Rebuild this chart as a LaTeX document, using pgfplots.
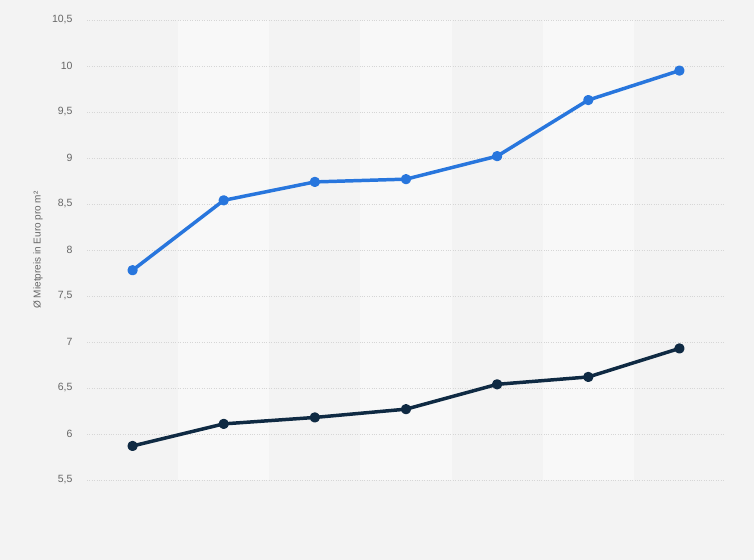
\documentclass[border=0pt]{standalone}
\usepackage{pgfplots}
\pgfplotsset{compat=1.18}
\usepackage{fontspec}
\setmainfont{Liberation Sans}
\definecolor{bgc}{HTML}{F3F3F3}
\definecolor{bandc}{HTML}{F8F8F8}
\definecolor{gridc}{HTML}{D6D6D6}
\definecolor{txtc}{HTML}{666666}
\definecolor{blue1}{HTML}{2876DD}
\definecolor{navy1}{HTML}{0F2A43}
\begin{document}
\begin{tikzpicture}
\begin{axis}[
  set layers,
  at={(0,0)}, anchor=south west,
  scale only axis, width=638bp, height=460bp,
  xmin=-0.5, xmax=6.5, ymin=5.5, ymax=10.5,
  axis line style={draw=none},
  xtick=\empty,
  ytick={5.5,6,...,10.5},
  ymajorgrids,
  grid style={gridc, dotted, line width=0.8pt},
  major tick length=0pt,
  yticklabel style={font=\fontsize{10.5bp}{12bp}\selectfont, text=txtc, xshift=-11bp},
  /pgf/number format/.cd, use comma, fixed, precision=1, assume math mode=true,
  /pgfplots/.cd,
  ylabel={Ø Mietpreis in Euro pro m²},
  every axis y label/.style={at={([xshift=-49bp]rel axis cs:0,0.5)}, rotate=90, anchor=center,
    font=\fontsize{10bp}{12bp}\selectfont, text=txtc},
  clip=false,
]
\begin{pgfonlayer}{axis background}
\fill[bgc] ([xshift=-87bp,yshift=-80bp]rel axis cs:0,0) rectangle ([xshift=29bp,yshift=20bp]rel axis cs:1,1);
\fill[bandc] (axis cs:0.5,5.5) rectangle (axis cs:1.5,10.5);
\fill[bandc] (axis cs:2.5,5.5) rectangle (axis cs:3.5,10.5);
\fill[bandc] (axis cs:4.5,5.5) rectangle (axis cs:5.5,10.5);
\end{pgfonlayer}
\addplot[blue1, line width=3.5pt, line join=round, mark=*, mark size=3.4pt, mark options={fill=blue1, draw=none}]
  coordinates {(0,7.78) (1,8.54) (2,8.74) (3,8.77) (4,9.02) (5,9.63) (6,9.95)};
\addplot[navy1, line width=3.5pt, line join=round, mark=*, mark size=3.4pt, mark options={fill=navy1, draw=none}]
  coordinates {(0,5.87) (1,6.11) (2,6.18) (3,6.27) (4,6.54) (5,6.62) (6,6.93)};
\end{axis}
\end{tikzpicture}
\end{document}
